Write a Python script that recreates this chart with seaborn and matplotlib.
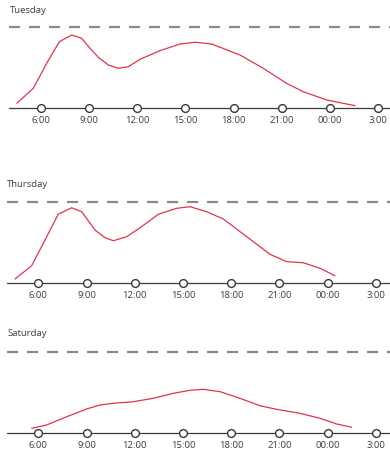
import matplotlib
matplotlib.use("Agg")
import matplotlib.pyplot as plt
import seaborn as sns
import pandas as pd

sns.set_theme(style="white")
plt.rcParams['font.family'] = ['Open Sans', 'DejaVu Sans']

# ---- data (hour of day, busyness in % of dashed reference line) ----
tue_hours = [4.51, 5.54, 6.37, 7.16, 7.93, 8.55, 9.07, 9.58, 10.21, 10.83, 11.45,
             12.18, 13.42, 14.67, 15.60, 16.64, 18.40, 19.85, 21.30, 22.34, 23.80, 25.56]
tue_values = [6.1, 24.5, 55.1, 81.6, 89.8, 85.8, 73.5, 62.5, 53.1, 49.0, 51.0,
              60.0, 70.6, 78.8, 80.9, 78.8, 65.3, 49.0, 30.6, 20.3, 10.2, 3.2]

thu_hours = [4.55, 5.59, 6.42, 7.24, 8.08, 8.70, 9.53, 10.15, 10.67, 11.50, 12.43,
             13.47, 14.61, 15.44, 16.48, 17.51, 18.97, 20.42, 21.46, 22.49, 23.53, 24.46]
thu_values = [5.3, 21.6, 53.1, 84.6, 92.6, 87.7, 65.3, 55.9, 52.2, 57.1, 69.4,
              84.6, 91.9, 93.9, 87.7, 78.8, 57.1, 35.5, 26.5, 25.2, 18.4, 9.3]

sat_hours = [5.59, 6.52, 7.77, 9.01, 9.84, 10.67, 11.91, 13.16, 14.40, 15.44, 16.27,
             17.31, 18.55, 19.79, 20.83, 22.28, 23.53, 24.57, 25.50]
sat_values = [6.1, 10.2, 20.3, 29.8, 34.7, 36.8, 38.7, 42.9, 49.0, 52.7, 53.9,
              51.0, 42.9, 33.8, 29.4, 24.5, 18.4, 11.4, 7.4]

days = ["Tuesday", "Thursday", "Saturday"]
tick_hours = [6, 9, 12, 15, 18, 21, 24, 27]
tick_labels = ["6:00", "9:00", "12:00", "15:00", "18:00", "21:00", "00:00", "3:00"]

series = {"Tuesday": (tue_hours, tue_values),
          "Thursday": (thu_hours, thu_values),
          "Saturday": (sat_hours, sat_values)}

# ---- layout (pixels) ----
W, H = 390, 453
fig = plt.figure(figsize=(W / 100, H / 100), dpi=100)
# (baseline px, dashed px, x px of 6:00, title x, title y)
layout = {"Tuesday": (108.3, 26.7, 40.7, 10.0, 10.7),
          "Thursday": (283.3, 201.7, 38.3, 7.3, 184.0),
          "Saturday": (433.3, 351.7, 38.3, 7.3, 333.3)}
px_per_hour = 16.07
axis_lead_px = 31.6   # distance from axis start to the 6:00 marker

red = "#e3334a"
grey_dash = "#8a8a8a"
dark = "#3a3a3a"
text_col = "#3c3c3c"

for day in days:
    base, dash, x6, tx, ty = layout[day]
    ax = fig.add_axes([0, 1 - base / H, 1, (base - dash) / H])
    x0 = 6 - x6 / px_per_hour
    x1 = 6 + (W - x6) / px_per_hour
    ax.set_xlim(x0, x1)
    ax.set_ylim(0, 100)
    start_h = 6 - axis_lead_px / px_per_hour

    ax.plot([start_h, x1 + 1], [100, 100], color=grey_dash, lw=1.6,
            linestyle=(0, (5, 4)), solid_capstyle="butt", clip_on=False)
    ax.plot([start_h, x1 + 1], [0, 0], color=dark, lw=0.9, zorder=2,
            clip_on=False)

    h, v = series[day]
    df = pd.DataFrame({"hour": h, "value": v})
    sns.lineplot(data=df, x="hour", y="value", ax=ax, color=red, lw=0.9,
                 sort=False, estimator=None, zorder=3)
    for ln in ax.lines:
        ln.set_solid_joinstyle("round")

    ax.plot(tick_hours, [0] * len(tick_hours), linestyle="none", marker="o",
            markersize=5.6, markerfacecolor="white", markeredgecolor=dark,
            markeredgewidth=1.0, clip_on=False, zorder=4)

    ax.set_xticks(tick_hours)
    ax.set_xticklabels(tick_labels, fontsize=6.8, color=text_col)
    ax.tick_params(axis="x", length=0, pad=5.2)
    ax.set_yticks([])
    ax.set_xlabel("")
    ax.set_ylabel("")
    for s in ax.spines.values():
        s.set_visible(False)
    ax.patch.set_alpha(0)

    fig.text(tx / W, 1 - ty / H, day, fontsize=6.8, color=text_col,
             ha="left", va="center")

fig.savefig("out.png", dpi=100)
